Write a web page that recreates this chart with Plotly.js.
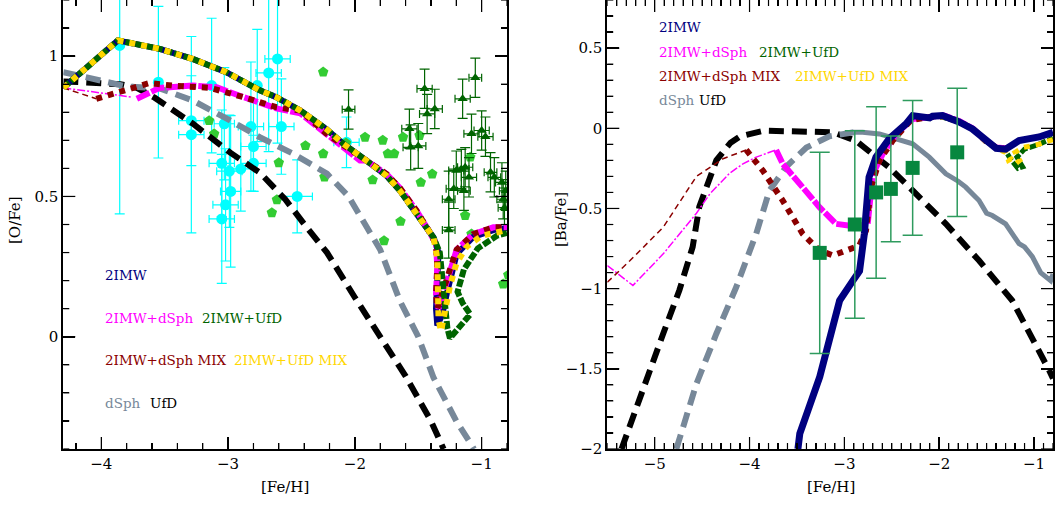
<!DOCTYPE html>
<html>
<head>
<meta charset="utf-8">
<script src="https://cdn.plot.ly/plotly-3.0.1.min.js"></script>
<style>html,body{margin:0;padding:0;background:#fff;}#chart{width:1056px;height:507px;}</style>
</head>
<body>
<div id="chart"></div>
<script>
// ---------------- LEFT PANEL : [O/Fe] vs [Fe/H] ----------------
// observational data: cyan circles
const cyanX = [-3.855,-3.55,-3.29,-3.29,-3.13,-3.03,-3.05,-2.99,-2.98,-3.02,-3.05,-2.90,-2.82,-2.80,-2.80,-2.77,-2.68,-2.61,-2.58,-2.455,-2.066];
const cyanY = [1.038,0.907,0.77,0.72,0.895,0.759,0.618,0.590,0.518,0.47,0.42,0.598,0.749,0.678,0.618,0.895,0.94,0.99,0.749,0.50,0.693];
const cyanYerr = [0.60,0.27,0.16,0.35,0.24,0.20,0.19,0.20,0.27,0.20,0.23,0.15,0.23,0.16,0.10,0.20,0.28,0.30,0.17,0.13,0.09];
const cyanXerr = [0.0,0.0,0.10,0.10,0.0,0.08,0.10,0.10,0.08,0.10,0.10,0.10,0.10,0.10,0.10,0.0,0.10,0.10,0.10,0.12,0.10];
// green pentagons
const pentX = [-2.25,-3.15,-3.11,-2.39,-2.25,-2.60,-2.24,-2.615,-2.655,-1.92,-1.78,-1.62,-1.74,-1.69,-1.86,-1.48,-1.39,-1.64,-1.77,-1.13,-1.08,-0.83,-0.79,-1.49,-1.09,-2.07];
const pentY = [0.943,0.77,0.723,0.681,0.652,0.62,0.569,0.488,0.442,0.711,0.70,0.711,0.652,0.652,0.559,0.55,0.58,0.411,0.342,0.432,0.366,0.188,0.22,0.717,0.64,0.69];
// dark green triangles
const triX = [-2.05,-1.57,-1.56,-1.50,-1.45,-1.43,-1.37,-1.26,-1.26,-1.22,-1.15,-1.05,-1.08,-1.00,-0.97,-1.20,-1.16,-1.13,-1.10,-1.14,-0.93,-0.90,-0.84,-0.83,-0.82,-0.81];
const triY = [0.81,0.741,0.675,0.68,0.884,0.794,0.812,0.49,0.38,0.527,0.848,0.923,0.723,0.735,0.713,0.592,0.598,0.604,0.568,0.52,0.586,0.568,0.55,0.49,0.46,0.52];
const triXerr = [0.05,0.06,0.06,0.06,0.06,0.06,0.06,0.05,0.05,0.06,0.06,0.05,0.06,0.06,0.06,0.06,0.06,0.06,0.06,0.05,0.05,0.05,0.05,0.05,0.05,0.05];
const triYerr = [0.07,0.07,0.08,0.08,0.07,0.07,0.07,0.10,0.10,0.07,0.07,0.07,0.07,0.07,0.07,0.07,0.07,0.07,0.07,0.07,0.07,0.07,0.07,0.07,0.07,0.07];

// model curves
const L_ufdX = [-4.3,-3.85,-3.72,-3.58,-3.28,-2.98,-2.75,-2.55,-2.38,-2.22,-2.0,-1.8,-1.6,-1.4,-1.3];
const L_ufdY = [0.91,0.90,0.887,0.852,0.76,0.655,0.585,0.49,0.39,0.30,0.14,0.0,-0.14,-0.30,-0.40];
const L_dsphX = [-4.3,-3.8,-3.54,-3.28,-3.01,-2.75,-2.49,-2.22,-2.05,-1.96,-1.8,-1.645,-1.5,-1.38,-1.2,-1.06];
const L_dsphY = [0.943,0.892,0.885,0.842,0.777,0.711,0.653,0.581,0.50,0.43,0.31,0.128,0.0,-0.145,-0.30,-0.40];
const L_imwX = [-4.3,-3.87,-3.54,-3.28,-3.015,-2.75,-2.62,-2.43,-2.225,-2.09,-1.91,-1.75,-1.645,-1.515,-1.38,-1.34,-1.35,-1.36,-1.35,-1.31,-1.276,-1.23,-1.197,-1.066,-0.908,-0.8];
const L_imwY = [0.887,1.056,1.026,0.99,0.943,0.878,0.854,0.806,0.74,0.687,0.628,0.574,0.521,0.438,0.354,0.30,0.20,0.10,0.04,0.08,0.152,0.24,0.295,0.356,0.38,0.388];
const L_dsphThinX = [-4.3,-4.0,-3.76];
const L_dsphThinY = [0.887,0.87,0.854];
const L_imwDsphX = [-3.72,-3.54,-3.28,-3.09,-2.88,-2.62,-2.43,-2.225,-1.96,-1.91,-1.75,-1.645,-1.515,-1.42,-1.36,-1.35,-1.36,-1.34,-1.30,-1.25,-1.197,-1.066,-0.908,-0.8];
const L_imwDsphY = [0.848,0.887,0.895,0.889,0.854,0.814,0.796,0.724,0.628,0.628,0.58,0.53,0.45,0.38,0.33,0.25,0.15,0.10,0.16,0.24,0.31,0.366,0.39,0.39];
const L_mixThinX = [-4.3,-4.04];
const L_mixThinY = [0.887,0.848];
const L_mixDsphX = [-4.04,-3.91,-3.80,-3.62,-3.44,-3.145,-2.88,-2.62,-2.43,-2.225,-1.99,-1.91,-1.75,-1.645,-1.515,-1.42,-1.36,-1.35,-1.36,-1.35,-1.31,-1.25,-1.197,-1.066,-0.908,-0.8];
const L_mixDsphY = [0.848,0.865,0.88,0.904,0.895,0.887,0.854,0.818,0.806,0.724,0.652,0.63,0.58,0.53,0.45,0.38,0.33,0.25,0.15,0.10,0.15,0.24,0.31,0.366,0.39,0.39];
const L_imwUfdX = [-4.3,-3.87,-3.54,-3.28,-3.015,-2.75,-2.62,-2.43,-2.225,-2.09,-1.91,-1.75,-1.645,-1.515,-1.38,-1.33,-1.30,-1.27,-1.25,-1.17,-1.09,-1.15,-1.19,-1.14,-1.03,-0.88,-0.8];
const L_imwUfdY = [0.887,1.056,1.026,0.99,0.943,0.878,0.854,0.806,0.74,0.687,0.628,0.574,0.521,0.438,0.354,0.30,0.15,0.03,-0.005,0.04,0.08,0.12,0.16,0.24,0.315,0.36,0.37];
const L_mixUfdX = [-4.3,-3.87,-3.54,-3.28,-3.015,-2.75,-2.62,-2.43,-2.225,-2.09,-1.91,-1.75,-1.645,-1.515,-1.38,-1.35,-1.35,-1.34,-1.32,-1.29,-1.25,-1.2,-1.12,-1.0,-0.85,-0.8];
const L_mixUfdY = [0.887,1.056,1.026,0.99,0.943,0.878,0.854,0.806,0.74,0.687,0.628,0.574,0.521,0.438,0.354,0.28,0.15,0.06,0.02,0.10,0.18,0.26,0.32,0.36,0.378,0.38];

// ---------------- RIGHT PANEL : [Ba/Fe] vs [Fe/H] ----------------
const sqX = [-3.26,-2.89,-2.665,-2.51,-2.28,-1.81];
const sqY = [-0.777,-0.60,-0.40,-0.378,-0.247,-0.15];
const sqYerr = [0.627,0.585,0.535,0.33,0.42,0.40];

const R_ufdX = [-5.35,-5.16,-4.91,-4.74,-4.6,-4.53,-4.46,-4.35,-4.2,-4.1,-3.85,-3.5,-3.12,-2.88,-2.53,-2.28,-1.93,-1.58,-1.23,-0.84,-0.8];
const R_ufdY = [-2.0,-1.70,-1.28,-1.01,-0.74,-0.49,-0.37,-0.20,-0.09,-0.05,-0.015,-0.017,-0.025,-0.077,-0.243,-0.388,-0.596,-0.825,-1.074,-1.51,-1.56];
const R_dsphDashX = [-4.772,-4.56,-4.35,-4.14,-3.93,-3.79,-3.614,-3.40,-3.158,-2.9];
const R_dsphDashY = [-2.0,-1.593,-1.281,-0.99,-0.658,-0.388,-0.24,-0.12,-0.05,-0.025];
const R_dsphSolidX = [-2.9,-2.807,-2.63,-2.386,-2.28,-2.105,-1.93,-1.80,-1.72,-1.58,-1.50,-1.44,-1.30,-1.158,-1.10,-1.018,-0.93,-0.825,-0.8];
const R_dsphSolidY = [-0.025,-0.025,-0.035,-0.077,-0.097,-0.18,-0.284,-0.33,-0.367,-0.45,-0.53,-0.544,-0.596,-0.72,-0.74,-0.80,-0.90,-0.95,-0.91];
const R_imwX = [-3.49,-3.47,-3.26,-3.16,-3.05,-2.91,-2.84,-2.79,-2.74,-2.667,-2.526,-2.35,-2.28,-2.10,-2.07,-1.965,-1.79,-1.65,-1.51,-1.40,-1.30,-1.20,-1.158,-0.947,-0.8];
const R_imwY = [-2.0,-1.904,-1.551,-1.32,-1.074,-0.95,-0.89,-0.66,-0.305,-0.18,-0.065,0.027,0.079,0.065,0.075,0.079,0.04,-0.004,-0.08,-0.125,-0.13,-0.095,-0.077,-0.054,-0.025];
const R_dsphThinX = [-5.5,-5.23,-4.91,-4.56,-4.42,-4.21,-4.07,-3.93,-3.72];
const R_dsphThinY = [-0.856,-0.98,-0.783,-0.53,-0.41,-0.28,-0.222,-0.18,-0.135];
const R_imwDsphX = [-3.72,-3.65,-3.44,-3.263,-3.088,-2.877,-2.754,-2.70,-2.596,-2.456,-2.28,-2.1,-1.95,-1.79,-1.65,-1.51,-1.4,-1.3];
const R_imwDsphY = [-0.135,-0.222,-0.368,-0.492,-0.596,-0.613,-0.596,-0.285,-0.16,-0.035,0.058,0.07,0.08,0.045,0.0,-0.075,-0.12,-0.125];
const R_mixThinX = [-5.5,-5.26,-4.91,-4.56,-4.28,-4.035];
const R_mixThinY = [-0.96,-0.825,-0.617,-0.30,-0.19,-0.135];
const R_mixDsphX = [-4.035,-3.86,-3.65,-3.44,-3.263,-3.12,-2.842,-2.772,-2.72,-2.63,-2.49,-2.3,-2.1,-1.95,-1.79,-1.65,-1.51,-1.4,-1.3];
const R_mixDsphY = [-0.135,-0.264,-0.451,-0.658,-0.762,-0.793,-0.731,-0.638,-0.368,-0.2,-0.077,0.05,0.07,0.075,0.04,0.0,-0.08,-0.12,-0.13];
const R_imwUfdX = [-2.0,-1.79,-1.65,-1.51,-1.40,-1.30,-1.25,-1.20,-1.17,-1.12,-1.18,-1.10,-0.95,-0.8];
const R_imwUfdY = [0.075,0.04,0.0,-0.08,-0.125,-0.14,-0.19,-0.23,-0.25,-0.24,-0.18,-0.13,-0.10,-0.06];
const R_mixUfdX = [-2.0,-1.79,-1.65,-1.51,-1.40,-1.30,-1.27,-1.24,-1.19,-1.15,-1.20,-1.12,-0.95,-0.8];
const R_mixUfdY = [0.075,0.04,0.0,-0.08,-0.125,-0.15,-0.20,-0.19,-0.22,-0.20,-0.15,-0.12,-0.10,-0.07];

// legend labels
const legendRows = [
  [["2IMW","#000080"]],
  [["2IMW+dSph","#ff00ff"],["2IMW+UfD","#006400"]],
  [["2IMW+dSph MIX","#8b0000"],["2IMW+UfD MIX","#ffd700"]],
  [["dSph","#778899"],["UfD","#000000"]]
];

const C = {imw:"#000080", dsph:"#ff00ff", mix:"#8b0000", ufdG:"#006400", mixU:"#ffd700", gray:"#778899", blk:"#000000"};
const FONT = "DejaVu Serif";

function line(x,y,xa,ya,color,width,dash){
  return {x:x,y:y,xaxis:xa,yaxis:ya,type:'scatter',mode:'lines',hoverinfo:'skip',
          line:{color:color,width:width,dash:dash||'solid'}};
}

const traces = [];
traces.push({x:cyanX,y:cyanY,xaxis:'x',yaxis:'y',type:'scatter',mode:'markers',
  marker:{symbol:'circle',size:11,color:'#00ffff'},
  error_y:{type:'data',array:cyanYerr,color:'#00ffff',thickness:1.2,width:5},
  error_x:{type:'data',array:cyanXerr,color:'#00ffff',thickness:1.2,width:4}});
traces.push({x:pentX,y:pentY,xaxis:'x',yaxis:'y',type:'scatter',mode:'markers',
  marker:{symbol:'pentagon',size:11,color:'#33cc33'}});
traces.push({x:triX,y:triY,xaxis:'x',yaxis:'y',type:'scatter',mode:'markers',
  marker:{symbol:'triangle-up',size:9,color:'#006400'},
  error_y:{type:'data',array:triYerr,color:'#006400',thickness:1.2,width:5},
  error_x:{type:'data',array:triXerr,color:'#006400',thickness:1.2,width:4}});
traces.push(line(L_ufdX,L_ufdY,'x','y',C.blk,6,'15px,8px'));
traces.push(line(L_dsphX,L_dsphY,'x','y',C.gray,6,'15px,8px'));
traces.push(line(L_imwX,L_imwY,'x','y',C.imw,6));
traces.push(line(L_dsphThinX,L_dsphThinY,'x','y',C.dsph,1.5,'8px,2px,2px,2px'));
traces.push(line(L_imwDsphX,L_imwDsphY,'x','y',C.dsph,6,'14px,2px'));
traces.push(line(L_mixThinX,L_mixThinY,'x','y',C.mix,1.5,'6px,4px'));
traces.push(line(L_mixDsphX,L_mixDsphY,'x','y',C.mix,6,'6px,6px'));
traces.push(line(L_imwUfdX,L_imwUfdY,'x','y',C.ufdG,6,'8px,2px'));
traces.push(line(L_mixUfdX,L_mixUfdY,'x','y',C.mixU,6,'6px,6px'));
traces.push(line(R_ufdX,R_ufdY,'x2','y2',C.blk,6,'15px,8px'));
traces.push(line(R_dsphDashX,R_dsphDashY,'x2','y2',C.gray,6,'15px,8px'));
traces.push(line(R_dsphSolidX,R_dsphSolidY,'x2','y2',C.gray,5));
traces.push(line(R_dsphThinX,R_dsphThinY,'x2','y2',C.dsph,1.5,'8px,2px,2px,2px'));
traces.push(line(R_mixThinX,R_mixThinY,'x2','y2',C.mix,1.5,'6px,4px'));
traces.push(line(R_imwDsphX,R_imwDsphY,'x2','y2',C.dsph,6,'14px,2px'));
traces.push(line(R_mixDsphX,R_mixDsphY,'x2','y2',C.mix,6,'6px,6px'));
traces.push(line(R_imwUfdX,R_imwUfdY,'x2','y2',C.ufdG,5,'8px,2px'));
traces.push(line(R_mixUfdX,R_mixUfdY,'x2','y2',C.mixU,5,'6px,6px'));
traces.push(line(R_imwX,R_imwY,'x2','y2',C.imw,7));
traces.push({x:sqX,y:sqY,xaxis:'x2',yaxis:'y2',type:'scatter',mode:'markers',
  marker:{symbol:'square',size:14,color:'#07873f'},
  error_y:{type:'data',array:sqYerr,color:'#2e9b5e',thickness:1.5,width:10}});

const W = 1056, H = 507;
const px2x = p => p/W;
const py2y = p => 1-p/H;

const annotations = [];
function legendAt(rowsY, starts){
  legendRows.forEach((row,i)=>{
    row.forEach((item,j)=>{
      annotations.push({xref:'paper',yref:'paper',x:px2x(starts[i][j]),y:py2y(rowsY[i]),
        xanchor:'left',yanchor:'middle',showarrow:false,text:item[0],
        font:{family:FONT,size:13.5,color:item[1]}});
    });
  });
}
legendAt([275,318,360,403],[[103],[103,200],[103,232],[103,148]]);
legendAt([27,52,76,100],[[657],[657,757],[657,793],[657,697]]);
annotations.push({xref:'paper',yref:'paper',x:px2x(285),y:py2y(487),text:'[Fe/H]',showarrow:false,xanchor:'center',yanchor:'middle',font:{family:FONT,size:15,color:'#000'}});
annotations.push({xref:'paper',yref:'paper',x:px2x(831),y:py2y(487),text:'[Fe/H]',showarrow:false,xanchor:'center',yanchor:'middle',font:{family:FONT,size:15,color:'#000'}});
annotations.push({xref:'paper',yref:'paper',x:px2x(15),y:py2y(220),text:'[O/Fe]',showarrow:false,textangle:-90,xanchor:'center',yanchor:'middle',font:{family:FONT,size:15,color:'#000'}});
annotations.push({xref:'paper',yref:'paper',x:px2x(561),y:py2y(220),text:'[Ba/Fe]',showarrow:false,textangle:-90,xanchor:'center',yanchor:'middle',font:{family:FONT,size:15,color:'#000'}});

function axis(domain, range, dtick, minorDtick, anchor){
  return {domain:domain, range:range, anchor:anchor, showline:true, linecolor:'#000', linewidth:2,
    mirror:'allticks', ticks:'inside', ticklen:12, tickwidth:1.5, tickcolor:'#000',
    dtick:dtick, tick0:0, showgrid:false, zeroline:false,
    minor:{dtick:minorDtick, ticks:'inside', ticklen:6, tickwidth:1.2, tickcolor:'#000'},
    tickfont:{family:FONT,size:15,color:'#000'}};
}

const yDom = [1-449/H, 1];
const panelHeightPx = 449;
const xDomL = [63.3/W, 507/W], xDomR = [607.3/W, 1053/W];

// frame tick marks drawn as shapes on all four sides (values generated from the axis tick steps)
const shapes = [];
function tickValues(range, step){
  const out = [];
  const n0 = Math.ceil(range[0]/step - 1e-9), n1 = Math.floor(range[1]/step + 1e-9);
  for (let n=n0; n<=n1; n++) out.push(+(n*step).toFixed(6));
  return out;
}
function isMajor(v, dtick){ return Math.abs(v/dtick - Math.round(v/dtick)) < 1e-6; }
function addFrameTicks(xa, ya, xRange, yRange, xd, xm, yd, ym, widthPx){
  const st = {color:'#000', width:1.2};
  tickValues(xRange, xm).forEach(v=>{
    const len = (isMajor(v,xd)?12:6)/panelHeightPx;
    shapes.push({type:'line', xref:xa, yref:ya+' domain', x0:v, x1:v, y0:0, y1:len, line:st, layer:'above'});
    shapes.push({type:'line', xref:xa, yref:ya+' domain', x0:v, x1:v, y0:1, y1:1-len, line:st, layer:'above'});
  });
  tickValues(yRange, ym).forEach(v=>{
    const len = (isMajor(v,yd)?12:6)/widthPx;
    shapes.push({type:'line', xref:xa+' domain', yref:ya, x0:0, x1:len, y0:v, y1:v, line:st, layer:'above'});
    shapes.push({type:'line', xref:xa+' domain', yref:ya, x0:1, x1:1-len, y0:v, y1:v, line:st, layer:'above'});
  });
}
addFrameTicks('x','y',[-4.3,-0.8],[-0.4,1.2],1,0.2,0.5,0.1,(xDomL[1]-xDomL[0])*W);
addFrameTicks('x2','y2',[-5.5,-0.8],[-2,0.8],1,0.1,0.5,0.1,(xDomR[1]-xDomR[0])*W);

const layout = {
  width:W, height:H, margin:{l:0,r:0,t:0,b:0}, showlegend:false,
  font:{family:FONT,size:15,color:'#000'},
  xaxis: axis(xDomL, [-4.3,-0.8], 1, 0.2, 'y'),
  yaxis: axis(yDom, [-0.4,1.2], 0.5, 0.1, 'x'),
  xaxis2: axis(xDomR, [-5.5,-0.8], 1, 0.1, 'y2'),
  yaxis2: axis(yDom, [-2,0.8], 0.5, 0.1, 'x2'),
  annotations: annotations,
  shapes: shapes
};

Plotly.newPlot('chart', traces, layout, {staticPlot:true, displayModeBar:false});
</script>
</body>
</html>
